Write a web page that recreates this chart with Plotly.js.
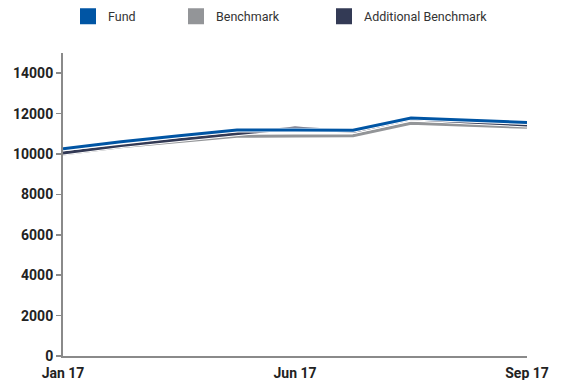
<!DOCTYPE html>
<html>
<head>
<meta charset="utf-8">
<script src="https://cdn.plot.ly/plotly-3.0.1.min.js"></script>
<style>html,body{margin:0;padding:0;background:#fff;}#chart{width:564px;height:380px;}</style>
</head>
<body>
<div id="chart"></div>
<script>
// Data
const xIndex = [0, 1, 2, 3, 4, 5, 6, 7, 8];
const tickPositions = [0, 4, 8];
const tickLabels = ["Jan 17", "Jun 17", "Sep 17"];
const yTickValues = [0, 2000, 4000, 6000, 8000, 10000, 12000, 14000];
const yTickLabels = ["0", "2000", "4000", "6000", "8000", "10000", "12000", "14000"];
const seriesNames = ["Fund", "Benchmark", "Additional Benchmark"];
const fund = [10260, 10610, 10900, 11190, 11190, 11180, 11780, 11680, 11560];
const benchmark = [10000, 10360, 10620, 10880, 10890, 10900, 11520, 11420, 11320];
const additional = [10050, 10420, 10720, 11000, 11290, 11120, 11740, 11590, 11440];

const colors = {fund: "#0055a4", benchmark: "#939598", additional: "#333a55"};
const FONT = 'Roboto, "Liberation Sans", Arial, sans-serif';

function whiteUnder(y) {
  return {x: xIndex, y: y, type: "scatter", mode: "lines", hoverinfo: "skip",
    line: {color: "#ffffff", width: 5}, showlegend: false};
}
function colored(y, c) {
  return {x: xIndex, y: y, type: "scatter", mode: "lines",
    line: {color: c, width: 3}, showlegend: false};
}
function legendEntry(name, c, lg) {
  return {x: [null], y: [null], type: "scatter", mode: "markers", name: name,
    marker: {symbol: "square", size: 16, color: c}, showlegend: true, legend: lg};
}

const traces = [
  whiteUnder(benchmark), colored(benchmark, colors.benchmark),
  whiteUnder(additional), colored(additional, colors.additional),
  whiteUnder(fund), colored(fund, colors.fund),
  legendEntry(seriesNames[0], colors.fund, "legend"),
  legendEntry(seriesNames[1], colors.benchmark, "legend2"),
  legendEntry(seriesNames[2], colors.additional, "legend3")
];

function lg(px) {
  return {x: px / 564, xref: "container", xanchor: "left", y: 1 - 16.5 / 380, yref: "container",
    yanchor: "middle", orientation: "h", bgcolor: "rgba(0,0,0,0)", borderwidth: 0,
    font: {family: FONT, size: 12.5, color: "#333333"}, itemwidth: 30};
}

const layout = {
  width: 564, height: 380,
  margin: {l: 63, r: 37, t: 53, b: 24},
  paper_bgcolor: "#ffffff", plot_bgcolor: "#ffffff",
  showlegend: true,
  legend: lg(68), legend2: lg(176), legend3: lg(324),
  xaxis: {
    range: [0, 8], tickmode: "array", tickvals: tickPositions, ticktext: tickLabels,
    showgrid: false, zeroline: false, showline: true, linecolor: "#8a8a8a", linewidth: 2,
    ticks: "", ticklabelstandoff: 3,
    tickfont: {family: FONT, size: 14, color: "#222222", weight: "bold"},
    fixedrange: true
  },
  yaxis: {
    range: [0, 15000], tickmode: "array", tickvals: yTickValues, ticktext: yTickLabels,
    showgrid: false, zeroline: false, showline: true, linecolor: "#8a8a8a", linewidth: 2,
    ticks: "outside", ticklen: 5, tickwidth: 1.5, tickcolor: "#8a8a8a",
    tickfont: {family: FONT, size: 14, color: "#222222", weight: "bold"},
    fixedrange: true
  }
};

Plotly.newPlot("chart", traces, layout, {displayModeBar: false, staticPlot: true});
</script>
</body>
</html>
